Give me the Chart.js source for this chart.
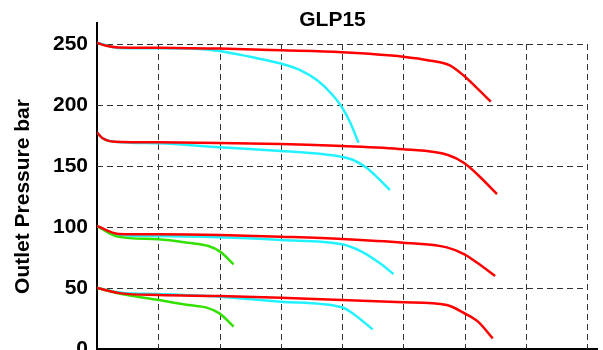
<!DOCTYPE html>
<html>
<head>
<meta charset="utf-8">
<script src="https://cdn.jsdelivr.net/npm/chart.js@4/dist/chart.umd.min.js"></script>
<style>
  html, body { margin: 0; padding: 0; background: #fff; }
  #wrap { width: 603px; height: 350px; overflow: hidden; position: relative; }
  #box { width: 603px; height: 380px; }
</style>
</head>
<body>
<div id="wrap"><div id="box"><canvas id="c"></canvas></div></div>
<script>
// ---- data (x in grid units, y in bar) ----
const chartTitle = "GLP15";
const yAxisTitle = "Outlet Pressure bar";
const yTicks = [0, 50, 100, 150, 200, 250];
const xGridTicks = [1, 2, 3, 4, 5, 6, 7, 8];

const red250X = [0, 0.15, 0.35, 1, 2, 3, 4, 5, 5.45, 5.76, 6, 6.2, 6.43];
const red250Y = [251, 248.5, 247.2, 247, 246.2, 244.8, 243.2, 239.6, 236.3, 232.5, 223.5, 214, 202.7];
const cyan250X = [0, 0.35, 1, 1.5, 2, 2.5, 3, 3.3, 3.6, 3.85, 4.0, 4.13, 4.27];
const cyan250Y = [251, 246.8, 246.5, 246.3, 244.3, 239.5, 234, 229, 220, 208, 198, 186, 169];

const red175X = [0, 0.08, 0.29, 1, 2, 3, 4, 5, 5.73, 6, 6.22, 6.53];
const red175Y = [177.6, 173.2, 169.9, 169.4, 168.9, 168, 166.4, 163.7, 159, 152.2, 142.6, 127];
const cyan175X = [0, 0.08, 0.29, 1, 2, 3, 3.7, 4, 4.2, 4.4, 4.6, 4.78];
const cyan175Y = [177.6, 173.2, 169.9, 168.6, 165.3, 162.3, 159.6, 157.4, 154.5, 148.5, 139.5, 130.3];

const red100X = [0, 0.35, 1, 2, 3, 4, 5, 5.71, 6, 6.22, 6.5];
const red100Y = [100.8, 94.3, 94, 93.4, 92, 90.2, 87.1, 83.3, 77.6, 70.2, 59.8];
const cyan100X = [0, 0.33, 1, 2, 3, 4, 4.32, 4.62, 4.84];
const cyan100Y = [100.8, 93.4, 92.6, 91.5, 89.3, 85.8, 79.8, 70.2, 61.5];
const green100X = [0, 0.33, 1, 1.49, 1.82, 2.01, 2.23];
const green100Y = [100.8, 92.1, 89.9, 87.1, 84.4, 79.8, 69.4];

const red50X = [0, 0.4, 1, 2, 3, 4, 5, 5.71, 6, 6.22, 6.46];
const red50Y = [50, 45.6, 44.3, 43.4, 42.1, 40.2, 38.3, 36.1, 29.2, 22.4, 8.7];
const cyan50X = [0, 0.4, 1, 2, 3, 4, 4.21, 4.5];
const cyan50Y = [50, 46.2, 45.1, 42.9, 38.8, 34.2, 27.9, 16.1];
const green50X = [0, 0.4, 1, 1.49, 1.79, 2, 2.23];
const green50Y = [50, 45.1, 40.2, 36.1, 33.9, 29.2, 18.3];

const RED = '#ff0000', CYAN = '#22f2ff', GREEN = '#33e000';
const pts = (xs, ys) => xs.map((x, i) => ({ x, y: ys[i] }));
const ds = (xs, ys, color) => ({
  data: pts(xs, ys), borderColor: color, borderWidth: 2.5,
  pointRadius: 0, fill: false, cubicInterpolationMode: 'monotone'
});

const FONT = '"Liberation Sans", Arial, Helvetica, sans-serif';

const gridPlugin = {
  id: 'dashGrid',
  beforeDatasetsDraw(chart) {
    const { ctx, scales: { x, y } } = chart;
    ctx.save();
    ctx.strokeStyle = '#333';
    ctx.lineWidth = 1;
    ctx.setLineDash([6, 4]);
    const x0 = x.getPixelForValue(0), x8 = x.getPixelForValue(8);
    const yb = y.getPixelForValue(0), yt = y.getPixelForValue(250);
    yTicks.filter(v => v > 0).forEach(v => {
      const py = Math.round(y.getPixelForValue(v)) + 0.5;
      ctx.beginPath(); ctx.moveTo(x0, py); ctx.lineTo(x8, py); ctx.stroke();
    });
    xGridTicks.forEach(v => {
      const px = Math.round(x.getPixelForValue(v)) + 0.5;
      ctx.beginPath(); ctx.moveTo(px, yt); ctx.lineTo(px, yb); ctx.stroke();
    });
    ctx.restore();
  },
  afterDraw(chart) {
    const { ctx } = chart;
    ctx.save();
    ctx.fillStyle = '#000';
    ctx.font = 'bold 21px ' + FONT;
    ctx.textAlign = 'center';
    ctx.textBaseline = 'alphabetic';
    ctx.fillText(chartTitle, 332.5, 26);
    ctx.translate(28.5, 196.5);
    ctx.rotate(-Math.PI / 2);
    ctx.fillText(yAxisTitle, 0, 0);
    ctx.restore();
  }
};

new Chart(document.getElementById('c'), {
  type: 'line',
  data: {
    datasets: [
      ds(red250X, red250Y, RED), ds(red175X, red175Y, RED),
      ds(red100X, red100Y, RED), ds(red50X, red50Y, RED),
      ds(green100X, green100Y, GREEN), ds(green50X, green50Y, GREEN),
      ds(cyan250X, cyan250Y, CYAN), ds(cyan175X, cyan175Y, CYAN),
      ds(cyan100X, cyan100Y, CYAN), ds(cyan50X, cyan50Y, CYAN)
    ]
  },
  options: {
    responsive: true,
    maintainAspectRatio: false,
    animation: false,
    layout: { padding: { top: 23, bottom: 11, left: 0, right: 6 } },
    plugins: { legend: { display: false }, tooltip: { enabled: false }, title: { display: false } },
    scales: {
      x: {
        type: 'linear', min: 0, max: 8.163,
        grid: { display: false, drawTicks: false },
        border: { display: true, color: '#000', width: 2 },
        ticks: { display: false },
        afterFit: s => { s.height = 20; }
      },
      y: {
        type: 'linear', min: 0, max: 267.2,
        afterBuildTicks: s => { s.ticks = yTicks.map(v => ({ value: v })); },
        grid: { display: false, drawTicks: false },
        border: { display: true, color: '#000', width: 2 },
        ticks: {
          padding: 9, color: '#000', autoSkip: false,
          font: { family: FONT, size: 21, weight: 'bold' }
        },
        afterFit: s => { s.width = 97; }
      }
    }
  },
  plugins: [gridPlugin]
});
</script>
</body>
</html>
